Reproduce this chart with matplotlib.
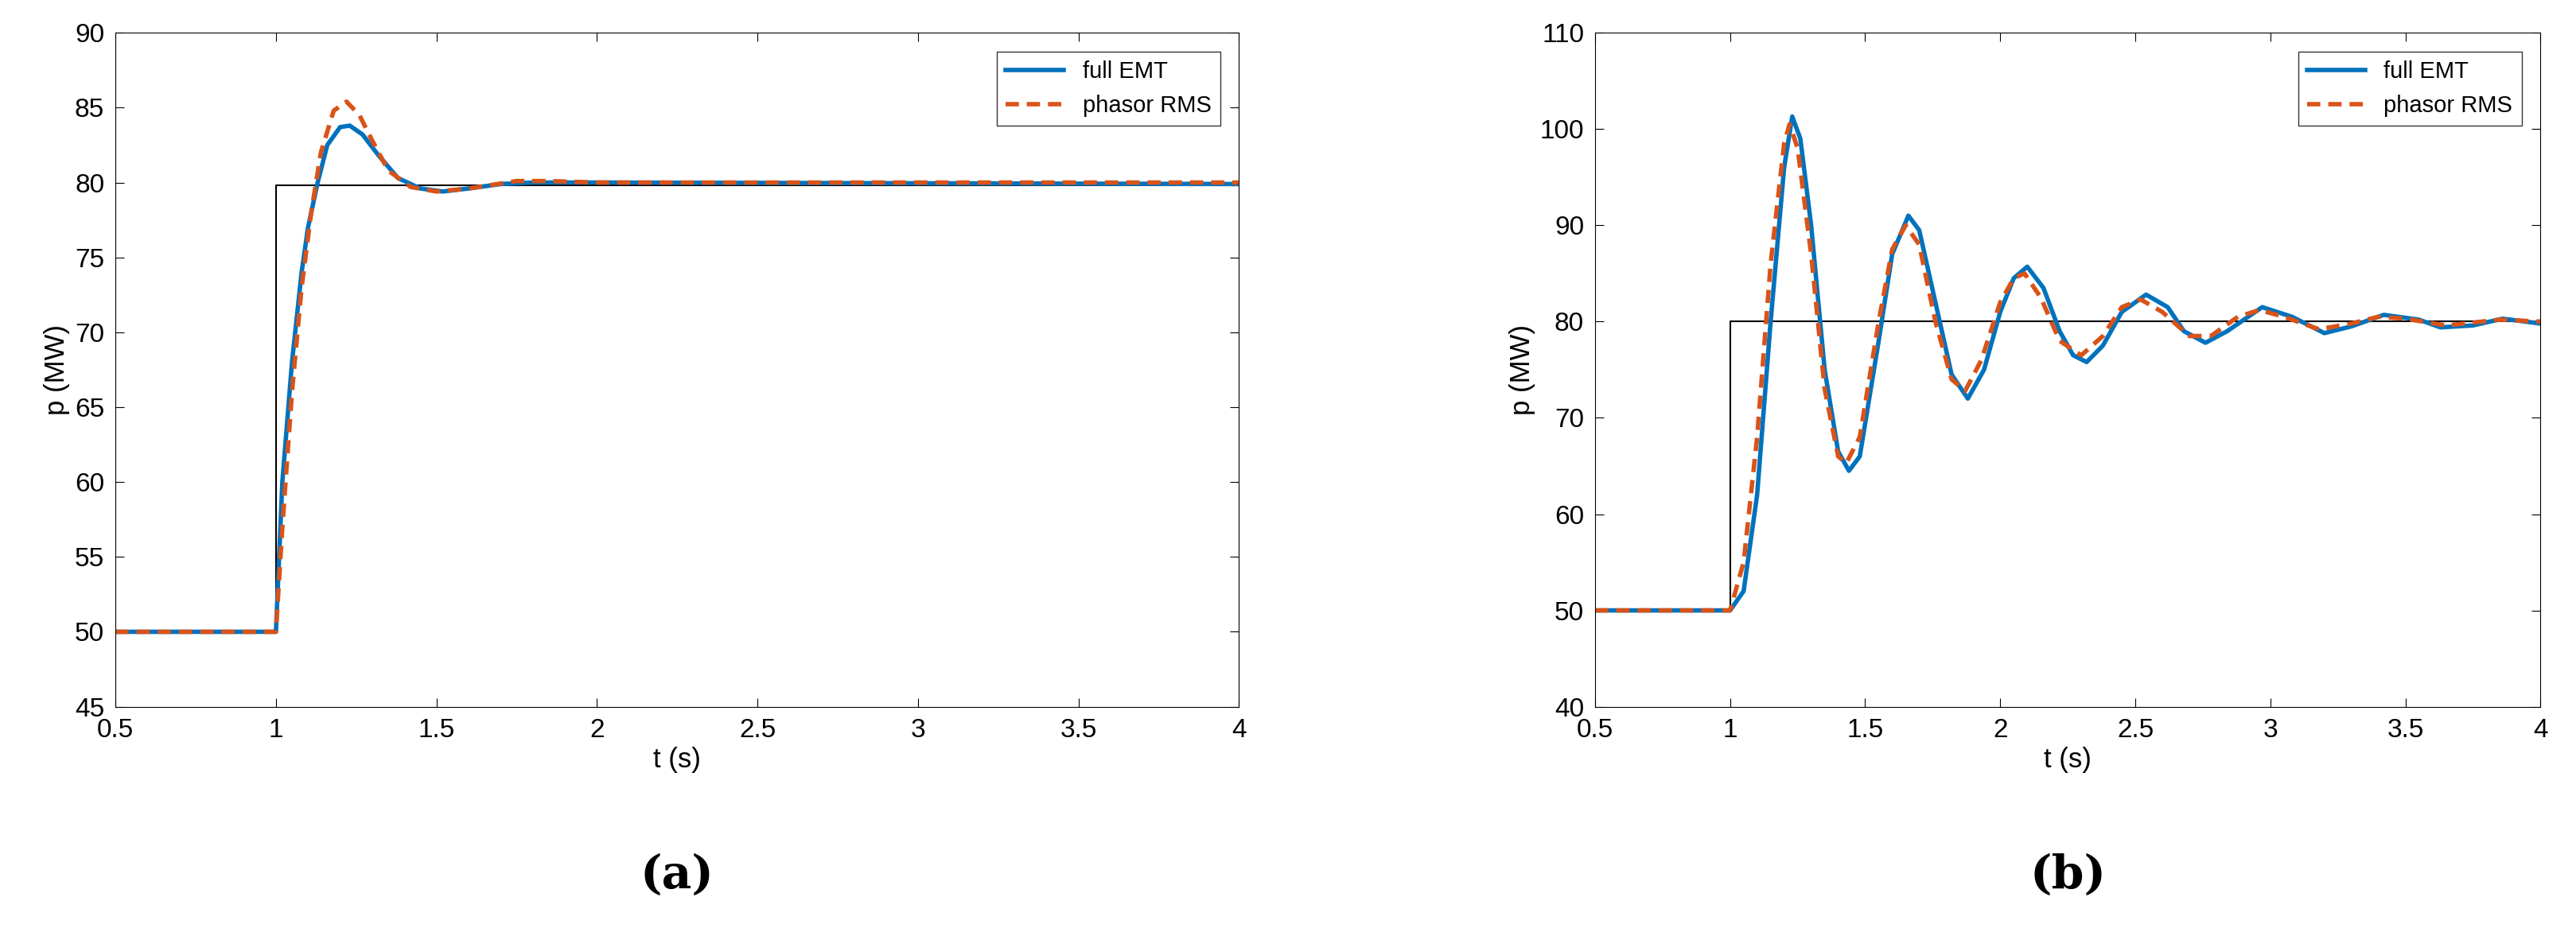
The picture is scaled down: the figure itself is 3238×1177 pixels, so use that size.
import numpy as np
import matplotlib.pyplot as plt

plt.rcParams['font.family'] = ['Liberation Sans', 'DejaVu Sans']

# panel (a)
ref_t = [0.5, 1.0, 1.0, 4.0]
ref_a = [50, 50, 79.8, 79.8]
ref_b = [50, 50, 80, 80]

a_emt_t = [0.5, 1.0, 1.02, 1.05, 1.08, 1.1, 1.13, 1.16, 1.2, 1.23, 1.27, 1.32, 1.38, 1.45, 1.52, 1.6, 1.7, 1.8, 2.0, 4.0]
a_emt_p = [50, 50, 60, 68, 74, 77, 80, 82.5, 83.7, 83.8, 83.2, 81.8, 80.3, 79.6, 79.4, 79.6, 79.9, 80.0, 80.0, 79.9]
a_rms_t = [0.5, 1.0, 1.02, 1.05, 1.08, 1.11, 1.14, 1.18, 1.22, 1.26, 1.3, 1.35, 1.42, 1.5, 1.6, 1.75, 1.85, 2.0, 4.0]
a_rms_p = [50, 50, 57, 66, 73, 78, 82, 84.8, 85.4, 84.5, 82.8, 80.8, 79.7, 79.4, 79.6, 80.1, 80.1, 80.0, 80.0]

# panel (b)
b_emt_t = [0.5, 1.0, 1.05, 1.1, 1.15, 1.2, 1.23, 1.26, 1.3, 1.35, 1.4, 1.44, 1.48, 1.55, 1.6, 1.66, 1.7,
           1.76, 1.82, 1.88, 1.94, 2.0, 2.05, 2.1, 2.16, 2.22, 2.27, 2.32, 2.38, 2.45, 2.54, 2.62, 2.68,
           2.76, 2.84, 2.97, 3.08, 3.2, 3.3, 3.42, 3.55, 3.63, 3.75, 3.86, 4.0]
b_emt_p = [50, 50, 52, 62, 80, 96, 101.3, 99, 90, 75, 66.5, 64.5, 66, 78, 87, 91, 89.5,
           82, 74.5, 72, 75, 81, 84.5, 85.7, 83.5, 79, 76.5, 75.8, 77.5, 81, 82.8, 81.5, 79,
           77.8, 79, 81.5, 80.5, 78.8, 79.5, 80.7, 80.2, 79.4, 79.6, 80.3, 79.8]
b_rms_t = [0.5, 1.0, 1.05, 1.1, 1.15, 1.2, 1.22, 1.25, 1.3, 1.35, 1.4, 1.43, 1.48, 1.55, 1.6, 1.65, 1.7,
           1.76, 1.82, 1.87, 1.93, 2.0, 2.05, 2.09, 2.15, 2.22, 2.3, 2.38, 2.45, 2.52, 2.6, 2.7,
           2.78, 2.88, 2.96, 3.05, 3.18, 3.3, 3.4, 3.5, 3.65, 3.85, 4.0]
b_rms_p = [50, 50, 55, 68, 86, 98.5, 100.5, 98, 87, 73, 66, 65.3, 68, 80, 87.5, 90, 88,
           80, 74, 72.8, 76, 82, 84.5, 85, 82.5, 78, 76.5, 78.5, 81.5, 82.3, 81, 78.5,
           78.5, 80.5, 81.2, 80.5, 79.2, 79.8, 80.5, 80.3, 79.6, 80.2, 80.0]

blue = '#0072BD'
orange = '#D95319'

fig = plt.figure(figsize=(32.38, 11.77), dpi=100)
ax1 = fig.add_axes([0.0448, 0.245, 0.4362, 0.72])
ax2 = fig.add_axes([0.6192, 0.245, 0.3670, 0.72])

panels = [
    (ax1, ref_a, a_emt_t, a_emt_p, a_rms_t, a_rms_p, (45, 90), np.arange(45, 91, 5), '(a)'),
    (ax2, ref_b, b_emt_t, b_emt_p, b_rms_t, b_rms_p, (40, 110), np.arange(40, 111, 10), '(b)'),
]
for ax, ref, et, ep, rt, rp, ylim, yt, lab in panels:
    ax.plot(ref_t, ref, color='black', lw=1.5)
    ax.plot(et, ep, color=blue, lw=4, label='full EMT')
    ax.plot(rt, rp, color=orange, lw=4, ls=(0, (3, 1.8)), label='phasor RMS')
    ax.set_xlim(0.5, 4)
    ax.set_ylim(*ylim)
    ax.set_yticks(yt)
    ax.set_xticks(np.arange(0.5, 4.01, 0.5))
    ax.set_xticklabels(['0.5', '1', '1.5', '2', '2.5', '3', '3.5', '4'])
    ax.tick_params(labelsize=24, direction='in', length=8, top=True, right=True, pad=10)
    ax.set_xlabel('t (s)', fontsize=25)
    ax.set_ylabel('p (MW)', fontsize=25)
    ax.legend(loc='upper right', fontsize=21, fancybox=False, edgecolor='black',
              handlelength=2.5, borderaxespad=0.8)
    ax.text(0.5, -0.25, lab, transform=ax.transAxes, ha='center', va='center',
            fontsize=42, fontweight='bold', family='DejaVu Serif')

fig.savefig('out.png', dpi=100)
